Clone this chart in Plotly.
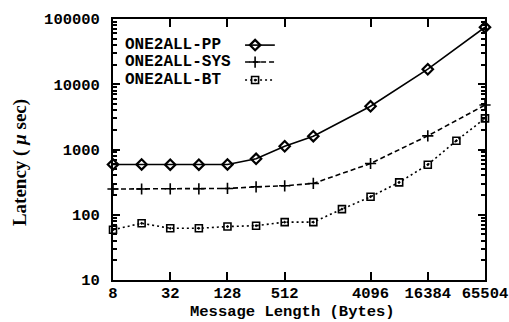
import plotly.graph_objects as go

# ---- data ----
x_pp = [8, 16, 32, 64, 128, 256, 512, 1024, 4096, 16384, 65504]
pp = [590, 590, 585, 585, 590, 720, 1120, 1600, 4600, 17000, 75000]

x_sys = [8, 16, 32, 64, 128, 256, 512, 1024, 4096, 16384, 65504]
sys_ = [248, 248, 250, 250, 253, 268, 278, 302, 610, 1620, 4800]

x_bt = [8, 16, 32, 64, 128, 256, 512, 1024, 2048, 4096, 8192, 16384, 32768, 65504]
bt = [59, 74, 62, 62, 66, 68, 77, 77, 122, 189, 314, 585, 1365, 3000]

x_ticks = [8, 32, 128, 512, 4096, 16384, 65504]
x_ticktext = ["8", "32", "128", "512", "4096", "16384", "65504"]
y_ticks = [10, 100, 1000, 10000, 100000]
y_ticktext = ["10", "100", "1000", "10000", "100000"]

names = ["ONE2ALL-PP", "ONE2ALL-SYS", "ONE2ALL-BT"]

MONO = "Liberation Mono"
SERIF = "Liberation Serif"
TF = 15.5

styles = [
    dict(dash="solid", symbol="diamond-open", size=8, mlw=2.2),
    dict(dash="5px,3px", symbol="cross-thin-open", size=8, mlw=1.6),
    dict(dash="2px,3px", symbol="square-open-dot", size=7, mlw=1.6),
]

fig = go.Figure()
for xs, ys, name, st in zip([x_pp, x_sys, x_bt], [pp, sys_, bt], names, styles):
    fig.add_trace(go.Scatter(
        x=xs, y=ys, mode="lines+markers", name=name, showlegend=False,
        line=dict(color="black", width=1.6, dash=st["dash"]),
        marker=dict(symbol=st["symbol"], size=st["size"], color="black",
                    line=dict(color="black", width=st["mlw"])),
        cliponaxis=False,
    ))

# ---- custom gnuplot-style legend (text left, sample right) ----
leg_y = [0.900, 0.835, 0.766]
for name, st, ly in zip(names, styles, leg_y):
    fig.add_trace(go.Scatter(
        x=[0.355, 0.435], y=[ly, ly], xaxis="x2", yaxis="y2", mode="lines",
        showlegend=False, hoverinfo="skip",
        line=dict(color="black", width=1.6, dash=st["dash"]),
    ))
    fig.add_trace(go.Scatter(
        x=[0.382], y=[ly], xaxis="x2", yaxis="y2", mode="markers",
        showlegend=False, hoverinfo="skip",
        marker=dict(symbol=st["symbol"], size=st["size"], color="black",
                    line=dict(color="black", width=st["mlw"])),
    ))
    fig.add_annotation(
        x=0.027, y=ly, xref="paper", yref="paper", text=name, showarrow=False,
        xanchor="left", yanchor="middle",
        font=dict(family=MONO, size=16, color="black", weight="bold"),
    )

# axis titles as annotations (positioned as in the reference)
fig.add_annotation(
    x=-0.25, y=0.448, xref="paper", yref="paper", text="Latency ( <i>μ</i> sec)",
    textangle=-90, showarrow=False, xanchor="center", yanchor="middle",
    font=dict(family=SERIF, size=19, color="black", weight="bold"),
)
fig.add_annotation(
    x=0.482, y=-0.124, xref="paper", yref="paper", text="Message Length (Bytes)",
    showarrow=False, xanchor="center", yanchor="middle", borderpad=0,
    font=dict(family=MONO, size=15.5, color="black", weight="bold"),
)

minor_y = [m * 10 ** e for e in range(1, 5) for m in range(2, 10)]

fig.update_layout(
    width=509, height=322,
    margin=dict(l=113, r=24, t=19, b=42),
    paper_bgcolor="white", plot_bgcolor="white",
    xaxis=dict(
        type="log", range=[0.903, 4.8163],
        tickmode="array", tickvals=x_ticks, ticktext=x_ticktext,
        ticks="inside", ticklen=8, tickwidth=2, tickcolor="black",
        showline=True, linecolor="black", linewidth=2, mirror="ticks",
        showgrid=False, zeroline=False, ticklabeloverflow="allow",
        automargin=False, ticklabelstandoff=-3,
        tickfont=dict(family=MONO, size=TF, color="black", weight="bold"),
    ),
    yaxis=dict(
        type="log", range=[1, 5],
        tickmode="array", tickvals=y_ticks, ticktext=y_ticktext,
        ticks="inside", ticklen=7, tickwidth=2, tickcolor="black",
        showline=True, linecolor="black", linewidth=2, mirror="ticks",
        showgrid=False, zeroline=False, automargin=False,
        minor=dict(tickmode="array", tickvals=minor_y, ticks="inside",
                   ticklen=4, tickwidth=1.5, tickcolor="black", showgrid=False),
        tickfont=dict(family=MONO, size=TF, color="black", weight="bold"),
        ticklabelstandoff=8,
    ),
    xaxis2=dict(overlaying="x", range=[0, 1], visible=False, fixedrange=True),
    yaxis2=dict(overlaying="y", range=[0, 1], visible=False, fixedrange=True),
    showlegend=False,
)

fig.write_html("out.html", config={"displayModeBar": False},
               post_script="document.body.style.margin='0';")
